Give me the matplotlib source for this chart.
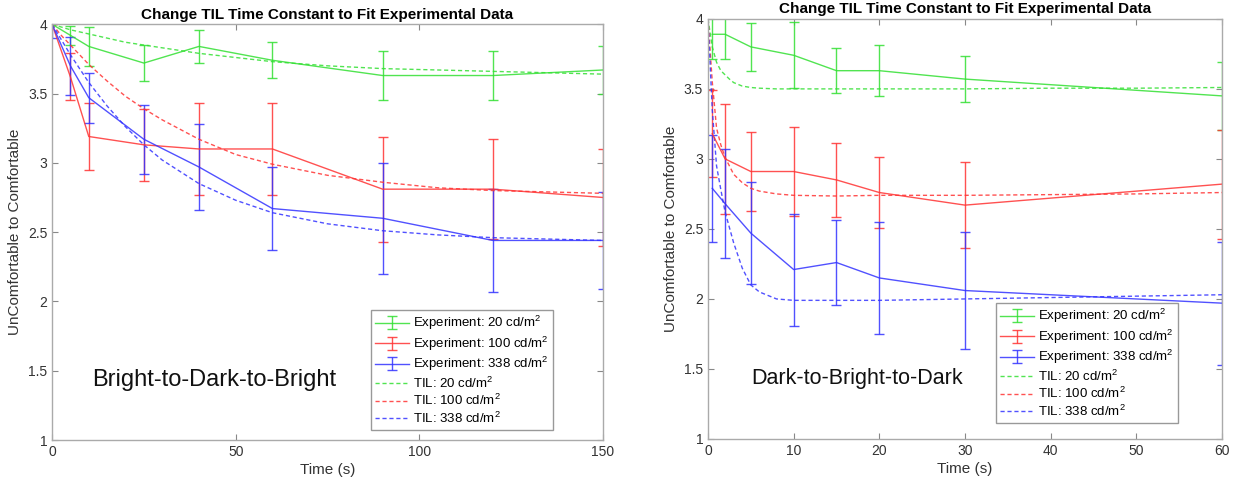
import matplotlib
matplotlib.use("Agg")
import matplotlib.pyplot as plt

plt.rcParams["font.family"] = ["Liberation Sans", "DejaVu Sans"]
plt.rcParams["mathtext.fontset"] = "custom"
plt.rcParams["mathtext.rm"] = "Liberation Sans"
plt.rcParams["mathtext.it"] = "Liberation Sans"

# ---- Bright-to-Dark-to-Bright (left) ----
t_exp_bdb = [0, 5, 10, 25, 40, 60, 90, 120, 150]
exp20_bdb = [4.00, 3.92, 3.84, 3.72, 3.84, 3.74, 3.63, 3.63, 3.67]
err20_bdb = [0.00, 0.07, 0.14, 0.13, 0.12, 0.13, 0.18, 0.18, 0.17]
exp100_bdb = [4.00, 3.62, 3.19, 3.13, 3.10, 3.10, 2.81, 2.81, 2.75]
err100_bdb = [0.00, 0.17, 0.24, 0.26, 0.33, 0.33, 0.38, 0.36, 0.35]
exp338_bdb = [4.00, 3.70, 3.47, 3.17, 2.97, 2.67, 2.60, 2.44, 2.44]
err338_bdb = [0.10, 0.21, 0.18, 0.25, 0.31, 0.30, 0.40, 0.37, 0.35]

t_til_bdb = [0, 2.5, 5, 10, 15, 20, 25, 30, 40, 50, 60, 75, 90, 105, 120, 135, 150]
til20_bdb = [4.00, 3.98, 3.96, 3.93, 3.90, 3.87, 3.85, 3.83, 3.79, 3.76, 3.73, 3.70, 3.68, 3.67, 3.66, 3.65, 3.64]
til100_bdb = [4.00, 3.92, 3.85, 3.71, 3.59, 3.48, 3.39, 3.31, 3.17, 3.06, 2.99, 2.91, 2.86, 2.82, 2.80, 2.79, 2.78]
til338_bdb = [4.00, 3.89, 3.78, 3.58, 3.41, 3.26, 3.13, 3.02, 2.85, 2.73, 2.64, 2.56, 2.51, 2.48, 2.46, 2.45, 2.44]

# ---- Dark-to-Bright-to-Dark (right) ----
t_exp_dbd = [0.5, 2, 5, 10, 15, 20, 30, 60]
exp20_dbd = [3.89, 3.89, 3.80, 3.74, 3.63, 3.63, 3.57, 3.45]
err20_dbd = [0.18, 0.18, 0.17, 0.235, 0.16, 0.18, 0.165, 0.24]
exp100_dbd = [3.18, 3.00, 2.91, 2.91, 2.85, 2.76, 2.67, 2.82]
err100_dbd = [0.31, 0.39, 0.28, 0.32, 0.265, 0.255, 0.305, 0.39]
exp338_dbd = [2.79, 2.68, 2.47, 2.21, 2.26, 2.15, 2.06, 1.97]
err338_dbd = [0.38, 0.39, 0.365, 0.40, 0.305, 0.40, 0.42, 0.44]

t_til_dbd = [0, 0.5, 1, 1.5, 2, 2.5, 3, 4, 5, 6, 8, 10, 15, 20, 30, 40, 50, 60]
til20_dbd = [4.00, 3.80, 3.69, 3.63, 3.60, 3.57, 3.545, 3.52, 3.51, 3.505, 3.50, 3.50, 3.50, 3.50, 3.50, 3.505, 3.505, 3.51]
til100_dbd = [4.00, 3.55, 3.22, 3.10, 3.01, 2.95, 2.89, 2.83, 2.79, 2.77, 2.75, 2.74, 2.735, 2.74, 2.74, 2.745, 2.75, 2.76]
til338_dbd = [4.00, 3.35, 2.95, 2.78, 2.62, 2.51, 2.40, 2.22, 2.10, 2.05, 2.00, 1.99, 1.99, 1.99, 2.00, 2.01, 2.02, 2.03]

levels = ["20", "100", "338"]
colors = ["#33e033", "#ff3333", "#3333ff"]
title = "Change TIL Time Constant to Fit Experimental Data"

panels = [
    dict(rect=[0.0422, 0.0909, 0.4469, 0.859], xmax=150, xticks=[0, 50, 100, 150],
         t_exp=t_exp_bdb, exp=[exp20_bdb, exp100_bdb, exp338_bdb], err=[err20_bdb, err100_bdb, err338_bdb],
         t_til=t_til_bdb, til=[til20_bdb, til100_bdb, til338_bdb],
         note="Bright-to-Dark-to-Bright", note_x=10.8, note_size=17, leg_anchor=(0.909, 0.024)),
    dict(rect=[0.5742, 0.093, 0.4169, 0.868], xmax=60, xticks=[0, 10, 20, 30, 40, 50, 60],
         t_exp=t_exp_dbd, exp=[exp20_dbd, exp100_dbd, exp338_dbd], err=[err20_dbd, err100_dbd, err338_dbd],
         t_til=t_til_dbd, til=[til20_dbd, til100_dbd, til338_dbd],
         note="Dark-to-Bright-to-Dark", note_x=5.1, note_size=15.5, leg_anchor=(0.914, 0.038)),
]

fig = plt.figure(figsize=(12.33, 4.84), dpi=100)

for p in panels:
    ax = fig.add_axes(p["rect"])
    handles = []
    for i in range(3):
        h = ax.errorbar(p["t_exp"], p["exp"][i], yerr=p["err"][i], color=colors[i], lw=1.0,
                        elinewidth=1.0, capsize=3.5, alpha=0.85,
                        label="Experiment: " + levels[i] + r" cd/m$^2$")
        handles.append(h)
    for i in range(3):
        h, = ax.plot(p["t_til"], p["til"][i], color=colors[i], lw=1.0, ls=(0, (3, 2)), alpha=0.85,
                     label="TIL: " + levels[i] + r" cd/m$^2$")
        handles.append(h)

    ax.set_xlim(0, p["xmax"])
    ax.set_ylim(1, 4)
    ax.set_xticks(p["xticks"])
    ax.set_yticks([1, 1.5, 2, 2.5, 3, 3.5, 4])
    ax.set_yticklabels(["1", "1.5", "2", "2.5", "3", "3.5", "4"])
    ax.tick_params(direction="in", top=True, right=True, length=4, color="#888888",
                   labelsize=10, labelcolor="#333333")
    for s in ax.spines.values():
        s.set_color("#aaaaaa")
        s.set_linewidth(1.0)

    ax.set_title(title, fontsize=11, fontweight="bold", pad=4)
    ax.set_xlabel("Time (s)", fontsize=11, color="#333333", labelpad=3)
    ax.set_ylabel("UnComfortable to Comfortable", fontsize=11, color="#333333")

    ax.text(p["note_x"], 1.43, p["note"], fontsize=p["note_size"], va="center", ha="left", color="#111111")

    leg = ax.legend(handles=handles, loc="lower right", bbox_to_anchor=p["leg_anchor"], fontsize=9.5,
                    frameon=True, fancybox=False, framealpha=1, edgecolor="#999999",
                    handlelength=2.6, labelspacing=0.18, borderpad=0.3, handletextpad=0.3,
                    borderaxespad=0)
    leg.get_frame().set_linewidth(1.0)

plt.savefig("out.png", dpi=100)
